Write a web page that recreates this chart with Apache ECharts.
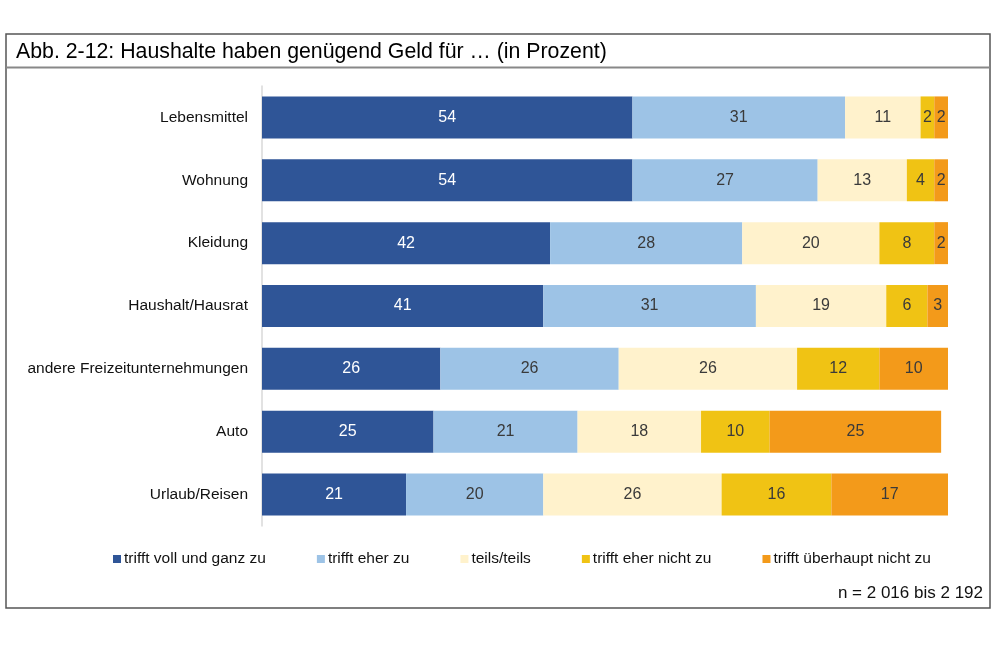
<!DOCTYPE html>
<html>
<head>
<meta charset="utf-8">
<script src="https://cdn.jsdelivr.net/npm/echarts@6/dist/echarts.min.js"></script>
<style>html,body{margin:0;padding:0;background:#fff}#c{width:1000px;height:667px}</style>
</head>
<body>
<div id="c"></div>
<script>
var categories = ['Lebensmittel', 'Wohnung', 'Kleidung', 'Haushalt/Hausrat', 'andere Freizeitunternehmungen', 'Auto', 'Urlaub/Reisen'];
var seriesNames = ['trifft voll und ganz zu', 'trifft eher zu', 'teils/teils', 'trifft eher nicht zu', 'trifft überhaupt nicht zu'];
var vollUndGanz = [54, 54, 42, 41, 26, 25, 21];
var eherZu = [31, 27, 28, 31, 26, 21, 20];
var teilsTeils = [11, 13, 20, 19, 26, 18, 26];
var eherNicht = [2, 4, 8, 6, 12, 10, 16];
var ueberhauptNicht = [2, 2, 2, 3, 10, 25, 17];
var titleText = 'Abb. 2-12: Haushalte haben genügend Geld für … (in Prozent)';
var noteText = 'n = 2 016 bis 2 192';

var colors = ['#2F5597', '#9DC3E6', '#FFF2CC', '#F0C314', '#F39A1A'];
var labelColors = ['#ffffff', '#3a3a3a', '#3a3a3a', '#3a3a3a', '#3a3a3a'];
var allData = [vollUndGanz, eherZu, teilsTeils, eherNicht, ueberhauptNicht];
var FONT = '"Liberation Sans", Arial, sans-serif';

var series = seriesNames.map(function (n, i) {
  return {
    name: n,
    type: 'bar',
    stack: 'total',
    barWidth: 42,
    data: allData[i],
    itemStyle: { color: colors[i] },
    label: { show: true, position: 'inside', color: labelColors[i], fontSize: 16, fontFamily: FONT },
    emphasis: { disabled: true }
  };
});

var chart = echarts.init(document.getElementById('c'));
chart.setOption({
  animation: false,
  textStyle: { fontFamily: FONT },
  grid: { left: 262, right: 52, top: 86, bottom: 141, containLabel: false },
  xAxis: { type: 'value', min: 0, max: 100, show: false },
  yAxis: {
    type: 'category', data: categories, inverse: true,
    axisLine: { show: true, lineStyle: { color: '#d9d9d9', width: 1.5 } },
    axisTick: { show: false },
    axisLabel: { color: '#111', fontSize: 15.5, margin: 14, fontFamily: FONT }
  },
  legend: {
    left: 108, top: 546, itemWidth: 8, itemHeight: 8, itemGap: 51, icon: 'rect',
    textStyle: { fontSize: 15.5, color: '#111', fontFamily: FONT, padding: [0, 0, 0, -2] },
    data: seriesNames
  },
  graphic: [
    { type: 'rect', shape: { x: 6, y: 34, width: 984, height: 574 }, style: { fill: 'none', stroke: '#555', lineWidth: 1.5 }, z: 100 },
    { type: 'line', shape: { x1: 6, y1: 67.5, x2: 990, y2: 67.5 }, style: { stroke: '#888', lineWidth: 2 }, z: 100 },
    { type: 'text', left: 16, top: 42, style: { text: titleText, fill: '#000', font: '21.3px "Liberation Sans", Arial, sans-serif' } },
    { type: 'text', right: 17, top: 585, style: { text: noteText, fill: '#111', font: '17px "Liberation Sans", Arial, sans-serif' } }
  ],
  series: series
});
</script>
</body>
</html>
